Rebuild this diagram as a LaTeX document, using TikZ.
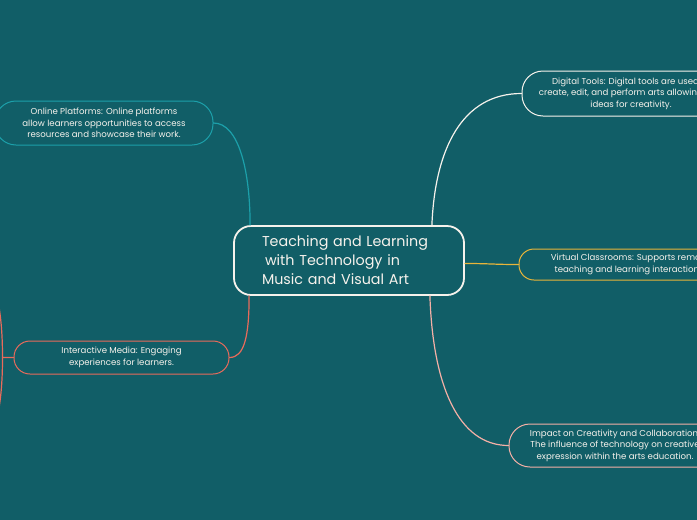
\documentclass[tikz,border=0pt]{standalone}
\usepackage{fontspec}
\setmainfont{Poppins}
\definecolor{bgteal}{RGB}{17,94,103}
\definecolor{lineteal}{RGB}{28,160,170}
\definecolor{lineyellow}{RGB}{232,181,58}
\definecolor{linered}{RGB}{233,107,91}
\definecolor{linepink}{RGB}{244,176,166}
\definecolor{offwhite}{RGB}{246,242,236}
\begin{document}
\begin{tikzpicture}[x=1pt,y=-1pt,line join=round,line cap=round,
  topic/.style={draw=#1,line width=1pt,inner sep=0pt,align=center,text=offwhite,
    font=\fontsize{8.6}{11.6}\selectfont},
  link/.style={draw=#1,line width=1.2pt}]
	\useasboundingbox (0,0) rectangle (697,520);
	\fill[bgteal] (0,0) rectangle (697,520);
	\clip (0,0) rectangle (697,520);
	% central topic
	\node[draw=offwhite,line width=1.8pt,rounded corners=17pt,minimum width=230pt,minimum height=69pt,
	  inner xsep=28pt,text width=174pt,align=left,text=offwhite,font=\fontsize{14.3}{19}\selectfont] (main) at (349,260.5)
	  {Teaching and Learning\\\hspace{3pt}with Technology in\\Music and Visual Art};
	% main topics
	\node[topic=lineteal,rounded corners=21pt,minimum width=218pt,minimum height=44pt] (online) at (104,123)
	  {Online Platforms: Online platforms\\allow learners opportunities to access\\resources and showcase their work.};
	\node[topic=linered,rounded corners=16pt,minimum width=215pt,minimum height=33pt] (media) at (121.5,357.5)
	  {Interactive Media: Engaging\\experiences for learners.};
	\node[topic=offwhite,rounded corners=21pt,minimum width=218pt,minimum height=45pt] (digital) at (631,93.5)
	  {Digital Tools: Digital tools are used to\\create, edit, and perform arts allowing new\\ideas for creativity.};
	\node[topic=lineyellow,rounded corners=15pt,minimum width=222pt,minimum height=31pt] (virtual) at (630,264.5)
	  {Virtual Classrooms: Supports remote\\teaching and learning interactions.};
	\node[topic=linepink,rounded corners=21pt,minimum width=212pt,minimum height=43pt] (impact) at (615,445.5)
	  {Impact on Creativity and Collaboration:\\The influence of technology on creative\\expression within the arts education.};
	% links
	\draw[link=lineteal] ([xshift=17pt]main.north west) .. controls +(0,-55) and +(25,0) .. (online.east);
	\draw[link=linered] ([xshift=16pt]main.south west) .. controls +(0,40) and +(15,0) .. (media.east);
	\draw[link=offwhite] ([xshift=-33pt]main.north east) .. controls +(3,-75) and +(-60,0) .. (digital.west);
	\draw[link=lineyellow] ([yshift=-3pt]main.east) .. controls +(25,0) and +(-25,0) .. (virtual.west);
	\draw[link=linepink] ([xshift=-35pt]main.south east) .. controls +(3,90) and +(-50,0) .. (impact.west);
	% subtopics of interactive media (off the page)
	\coordinate (mediaup) at (-4,290);
	\coordinate (mediadown) at (-4,425);
	\draw[link=linered] (media.west) -- ++(-11,0) coordinate (mediafork)
	  .. controls +(0,-30) and +(4,20) .. (mediaup);
	\draw[link=linered] (mediafork) .. controls +(0,30) and +(4,-20) .. (mediadown);
\end{tikzpicture}
\end{document}
